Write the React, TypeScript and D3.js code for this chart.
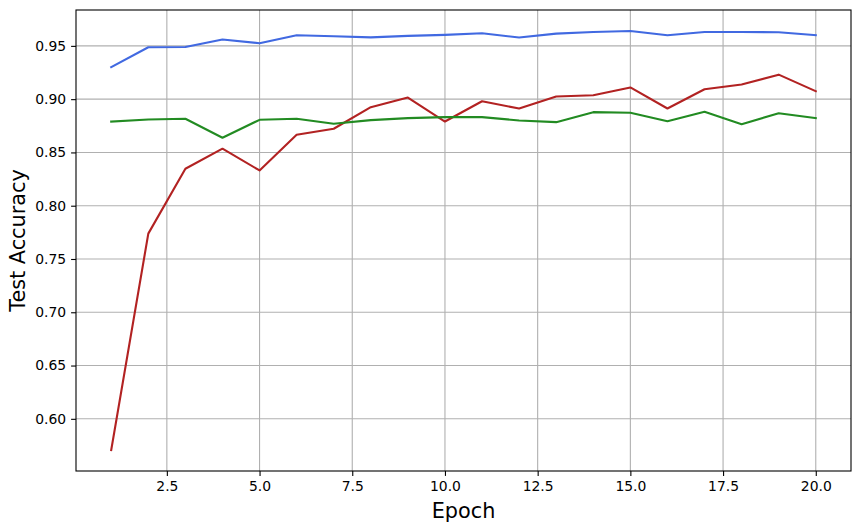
import React, { useRef, useEffect } from 'react';
import * as d3 from 'd3';

const epochs = [1, 2, 3, 4, 5, 6, 7, 8, 9, 10, 11, 12, 13, 14, 15, 16, 17, 18, 19, 20];

const blueAcc = [0.930, 0.9487, 0.949, 0.956, 0.9525, 0.960, 0.959, 0.958, 0.9594, 0.9603,
  0.9618, 0.9578, 0.9615, 0.963, 0.964, 0.960, 0.963, 0.963, 0.9628, 0.960];

const redAcc = [0.5707, 0.7738, 0.8347, 0.8535, 0.8331, 0.8666, 0.8722, 0.8925, 0.9015, 0.879,
  0.898, 0.8912, 0.9025, 0.9037, 0.911, 0.8912, 0.9093, 0.9137, 0.923, 0.9075];

const greenAcc = [0.879, 0.8809, 0.8816, 0.8638, 0.8806, 0.8816, 0.8769, 0.8803, 0.8822, 0.8831,
  0.8831, 0.880, 0.8784, 0.8878, 0.8872, 0.8793, 0.8881, 0.8765, 0.8868, 0.8822];

const xTicks = [2.5, 5.0, 7.5, 10.0, 12.5, 15.0, 17.5, 20.0];
const yTicks = [0.60, 0.65, 0.70, 0.75, 0.80, 0.85, 0.90, 0.95];

const seriesList = [
  { name: 'blue', values: blueAcc, color: '#4169e1' },
  { name: 'red', values: redAcc, color: '#b22222' },
  { name: 'green', values: greenAcc, color: '#228b22' },
];

const width = 861;
const height = 531;

const App = () => {
  const svgRef = useRef(null);

  useEffect(() => {
    const svg = d3.select(svgRef.current);
    svg.selectAll('*').remove();

    const margin = { top: 10, right: 10, bottom: 60, left: 76 };
    const innerWidth = width - margin.left - margin.right;
    const innerHeight = height - margin.top - margin.bottom;
    const font = 'DejaVu Sans, sans-serif';

    // matplotlib-style 5% margins around data
    const xPad = (d3.max(epochs) - d3.min(epochs)) * 0.05;
    const allVals = [...blueAcc, ...redAcc, ...greenAcc];
    const yMin = d3.min(allVals);
    const yMax = d3.max(allVals);
    const yPad = (yMax - yMin) * 0.05;

    const xScale = d3.scaleLinear()
      .domain([d3.min(epochs) - xPad, d3.max(epochs) + xPad])
      .range([0, innerWidth]);

    const yScale = d3.scaleLinear()
      .domain([yMin - yPad, yMax + yPad])
      .range([innerHeight, 0]);

    const g = svg.append('g')
      .attr('transform', `translate(${margin.left}, ${margin.top})`);

    // grid
    g.append('g')
      .selectAll('line')
      .data(xTicks)
      .enter()
      .append('line')
      .attr('x1', d => xScale(d))
      .attr('x2', d => xScale(d))
      .attr('y1', 0)
      .attr('y2', innerHeight)
      .attr('stroke', '#b0b0b0')
      .attr('stroke-width', 1.1);

    g.append('g')
      .selectAll('line')
      .data(yTicks)
      .enter()
      .append('line')
      .attr('x1', 0)
      .attr('x2', innerWidth)
      .attr('y1', d => yScale(d))
      .attr('y2', d => yScale(d))
      .attr('stroke', '#b0b0b0')
      .attr('stroke-width', 1.1);

    // lines
    const line = d3.line()
      .x((d, i) => xScale(epochs[i]))
      .y(d => yScale(d));

    seriesList.forEach(s => {
      g.append('path')
        .datum(s.values)
        .attr('d', line)
        .attr('fill', 'none')
        .attr('stroke', s.color)
        .attr('stroke-width', 2.1)
        .attr('stroke-linejoin', 'round')
        .attr('stroke-linecap', 'square');
    });

    // axes
    const xAxis = g.append('g')
      .attr('transform', `translate(0, ${innerHeight})`)
      .call(d3.axisBottom(xScale).tickValues(xTicks).tickFormat(d3.format('.1f')).tickSize(4.9).tickPadding(4.9));

    const yAxis = g.append('g')
      .call(d3.axisLeft(yScale).tickValues(yTicks).tickFormat(d3.format('.2f')).tickSize(4.9).tickPadding(4.9));

    [xAxis, yAxis].forEach(ax => {
      ax.select('.domain').remove();
      ax.selectAll('line').attr('stroke', '#000').attr('stroke-width', 1.1);
      ax.selectAll('text')
        .attr('font-family', font)
        .attr('font-size', '13.9px')
        .attr('fill', '#000');
    });

    // frame
    g.append('rect')
      .attr('x', 0)
      .attr('y', 0)
      .attr('width', innerWidth)
      .attr('height', innerHeight)
      .attr('fill', 'none')
      .attr('stroke', '#000')
      .attr('stroke-width', 1.1);

    // axis labels
    svg.append('text')
      .attr('x', margin.left + innerWidth / 2)
      .attr('y', 518)
      .attr('text-anchor', 'middle')
      .attr('font-family', font)
      .attr('font-size', '20.8px')
      .attr('fill', '#000')
      .text('Epoch');

    svg.append('text')
      .attr('transform', `translate(25, ${margin.top + innerHeight / 2}) rotate(-90)`)
      .attr('text-anchor', 'middle')
      .attr('font-family', font)
      .attr('font-size', '20.8px')
      .attr('fill', '#000')
      .text('Test Accuracy');
  }, []);

  return (
    <svg
      ref={svgRef}
      width={width}
      height={height}
      style={{ position: 'absolute', left: 0, top: 0, background: '#fff' }}
    ></svg>
  );
};

export default App;
